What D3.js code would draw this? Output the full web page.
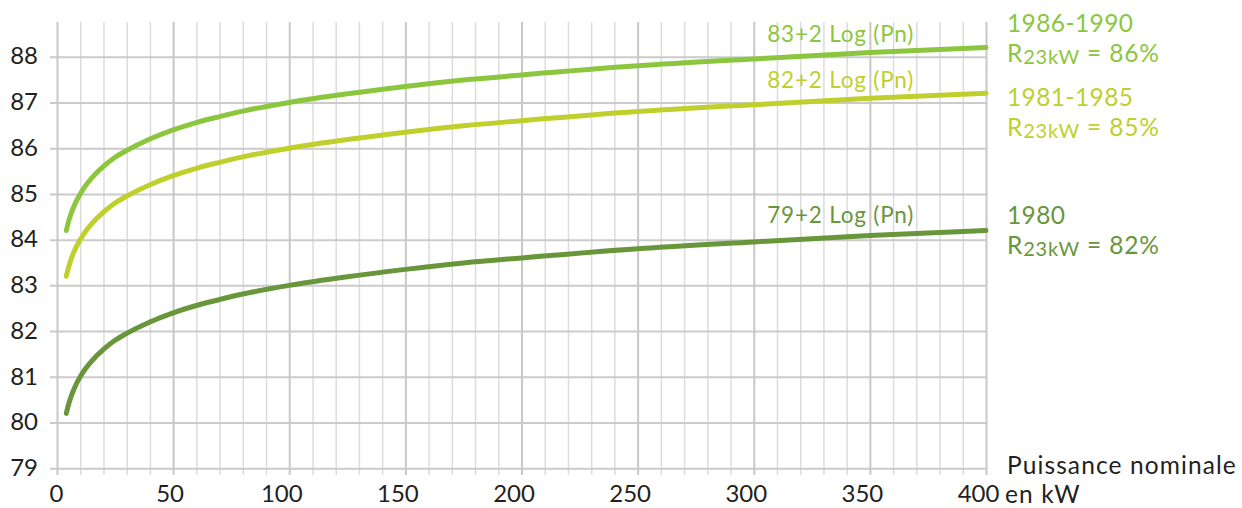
<!DOCTYPE html>
<html>
<head>
<meta charset="utf-8">
<script src="https://cdn.jsdelivr.net/npm/d3@7"></script>
<style>
  html, body { margin: 0; padding: 0; background: #fff; }
  svg { display: block; font-family: Lato, "Open Sans", sans-serif; }
</style>
</head>
<body>
<svg id="chart" width="1242" height="508"></svg>
<script>
// ---- data ----
const pn = [4, 5, 6, 8, 10, 12, 15, 20, 25, 30, 40, 50, 60, 70, 80, 100, 125, 150, 175, 200, 250, 300, 350, 400];
const r1980 = [80.20, 80.40, 80.56, 80.81, 81.00, 81.16, 81.35, 81.60, 81.80, 81.95, 82.20, 82.40, 82.56, 82.69, 82.81, 83.00, 83.19, 83.35, 83.49, 83.60, 83.80, 83.95, 84.09, 84.20];
const r1981 = [83.20, 83.40, 83.56, 83.81, 84.00, 84.16, 84.35, 84.60, 84.80, 84.95, 85.20, 85.40, 85.56, 85.69, 85.81, 86.00, 86.19, 86.35, 86.49, 86.60, 86.80, 86.95, 87.09, 87.20];
const r1986 = [84.20, 84.40, 84.56, 84.81, 85.00, 85.16, 85.35, 85.60, 85.80, 85.95, 86.20, 86.40, 86.56, 86.69, 86.81, 87.00, 87.19, 87.35, 87.49, 87.60, 87.80, 87.95, 88.09, 88.20];
const seriesNames = ["1986-1990", "1981-1985", "1980"];
const seriesRates = ["86%", "85%", "82%"];
const seriesFormulas = ["83+2 Log (Pn)", "82+2 Log (Pn)", "79+2 Log (Pn)"];
const yTicks = [79, 80, 81, 82, 83, 84, 85, 86, 87, 88];
const xMajorTicks = [0, 50, 100, 150, 200, 250, 300, 350, 400];
const xMinorTicks = [10, 20, 30, 40, 60, 70, 80, 90, 110, 120, 130, 140, 160, 170, 180, 190, 210, 220, 230, 240, 260, 270, 280, 290, 310, 320, 330, 340, 360, 370, 380, 390];
const xTitle = ["Puissance nominale", "en kW"];

// ---- layout ----
const colors = ["#8cc63e", "#bfcf2c", "#69963b"];
const svg = d3.select("#chart");
const x = d3.scaleLinear().domain([0, 400]).range([57, 986]);
const y = d3.scaleLinear().domain([79, 88]).range([468.3, 56.7]);
const gridTop = 22;
const gridBottom = 475;

// minor vertical grid
svg.append("g")
  .attr("transform", `translate(0,${gridTop})`)
  .call(d3.axisBottom(x).tickValues(xMinorTicks).tickSize(gridBottom - gridTop).tickFormat(""))
  .call(g => g.select(".domain").remove())
  .call(g => g.selectAll("line").attr("stroke", "#dcdcdc").attr("stroke-width", 1.5));

// horizontal grid + y labels
svg.append("g")
  .attr("transform", `translate(50,0)`)
  .call(d3.axisLeft(y).tickValues(yTicks).tickSize(-(986 - 50)).tickPadding(12).tickFormat(d3.format("d")))
  .call(g => g.select(".domain").remove())
  .call(g => g.selectAll("line").attr("stroke", "#cbcbcb").attr("stroke-width", 2))
  .call(g => g.selectAll("text").attr("fill", "#231f20").attr("font-size", 24).attr("dy", "0.3em")
    .attr("font-family", "Lato, 'Open Sans', sans-serif"));

// major vertical grid + x labels
svg.append("g")
  .attr("transform", `translate(0,${gridTop})`)
  .call(d3.axisBottom(x).tickValues(xMajorTicks).tickSize(gridBottom - gridTop).tickPadding(10).tickFormat(d3.format("d")))
  .call(g => g.select(".domain").remove())
  .call(g => g.selectAll("line").attr("stroke", "#c8c8c8").attr("stroke-width", 2))
  .call(g => g.selectAll("text").attr("fill", "#231f20").attr("font-size", 24)
    .attr("font-family", "Lato, 'Open Sans', sans-serif")
    .attr("dx", d => String(d).length === 1 ? -1 : String(d).length === 2 ? -3.5 : -8));

// lines
const allSeries = [r1986, r1981, r1980];
const line = d3.line().x((d, i) => x(pn[i])).y(d => y(d)).curve(d3.curveMonotoneX);
allSeries.forEach((s, k) => {
  svg.append("path")
    .datum(s)
    .attr("d", line)
    .attr("fill", "none")
    .attr("stroke", colors[k])
    .attr("stroke-width", 5)
    .attr("stroke-linecap", "round")
    .attr("stroke-linejoin", "round");
});

// formula annotations
const formulaBaselines = [42, 88, 223];
seriesFormulas.forEach((f, k) => {
  svg.append("text")
    .attr("x", 914).attr("y", formulaBaselines[k])
    .attr("text-anchor", "end")
    .attr("fill", colors[k])
    .attr("font-size", 22.5)
    .attr("letter-spacing", 0.8)
    .text(f);
});

// right-side labels
const nameBaselines = [32, 106, 224];
seriesNames.forEach((n, k) => {
  svg.append("text")
    .attr("x", 1007).attr("y", nameBaselines[k])
    .attr("fill", colors[k]).attr("font-size", 24.5).attr("letter-spacing", 0.4)
    .text(n);
  const t = svg.append("text")
    .attr("x", 1007).attr("y", nameBaselines[k] + 30)
    .attr("fill", colors[k]).attr("font-size", 24.5).attr("letter-spacing", 0.8);
  t.append("tspan").text("R");
  t.append("tspan").attr("font-size", 20).attr("dy", 2).text("23kW");
  t.append("tspan").attr("dy", -2).text(" = " + seriesRates[k]);
});

// x-axis title
svg.append("text").attr("x", 1007).attr("y", 474).attr("fill", "#231f20").attr("font-size", 24.5).attr("letter-spacing", 1.1).text(xTitle[0]);
svg.append("text").attr("x", 1005).attr("y", 503).attr("fill", "#231f20").attr("font-size", 24.5).attr("letter-spacing", 1.1).text(xTitle[1]);
</script>
</body>
</html>
